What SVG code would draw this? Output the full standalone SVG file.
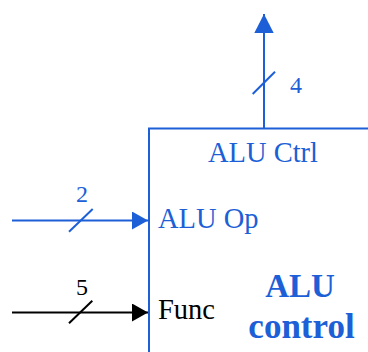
<svg xmlns="http://www.w3.org/2000/svg" width="368" height="352" viewBox="0 0 368 352">
  <defs>
    <style>
      .blue { stroke: #1c5fd6; }
      .line { fill: none; stroke-width: 2; }
      .t { font-family: "Liberation Serif", "DejaVu Serif", serif; }
      .tb { fill: #1c5fd6; }
      .tk { fill: #000000; }
    </style>
    <marker id="ahB" viewBox="0 0 16 18" refX="16" refY="9" markerWidth="16" markerHeight="18" markerUnits="userSpaceOnUse" orient="auto">
      <path d="M0,0 L16,9 L0,18 Z" fill="#1c5fd6"/>
    </marker>
    <marker id="ahK" viewBox="0 0 16 18" refX="16" refY="9" markerWidth="16" markerHeight="18" markerUnits="userSpaceOnUse" orient="auto">
      <path d="M0,0 L16,9 L0,18 Z" fill="#000000"/>
    </marker>
    <marker id="ahUp" viewBox="0 0 19 20" refX="19" refY="9.7" markerWidth="19" markerHeight="20" markerUnits="userSpaceOnUse" orient="auto">
      <path d="M0,0 L19,9.7 L0,19.4 Z" fill="#1c5fd6"/>
    </marker>
  </defs>

  <g id="alu-control">
    <path class="line blue" d="M149,352 V128.5 H368"/>
    <text class="t tb" x="263" y="162" font-size="28.5" text-anchor="middle">ALU Ctrl</text>
    <text class="t tb" x="158" y="228" font-size="28.5">ALU Op</text>
    <text class="t tk" x="158" y="319" font-size="28.5">Func</text>
    <text class="t tb" x="300" y="297" font-size="33" font-weight="bold" text-anchor="middle">ALU</text>
    <text class="t tb" x="301.5" y="338" font-size="35" font-weight="bold" text-anchor="middle">control</text>
  </g>

  <g id="connectors">
    <g id="out-ctrl">
      <line class="line blue" x1="264" y1="128.5" x2="264" y2="14" marker-end="url(#ahUp)"/>
      <line class="line blue" x1="252.7" y1="94" x2="275" y2="71.7"/>
      <text class="t tb" x="290" y="93" font-size="24">4</text>
    </g>
    <g id="in-aluop">
      <line class="line blue" x1="12" y1="220.5" x2="148" y2="220.5" marker-end="url(#ahB)"/>
      <line class="line blue" x1="69" y1="231.7" x2="92.7" y2="209"/>
      <text class="t tb" x="82" y="202" font-size="24" text-anchor="middle">2</text>
    </g>
    <g id="in-func">
      <line class="line" stroke="#000000" x1="12" y1="312.5" x2="148" y2="312.5" marker-end="url(#ahK)"/>
      <line class="line" stroke="#000000" x1="69" y1="323.3" x2="92.3" y2="300.7"/>
      <text class="t tk" x="82" y="295" font-size="24" text-anchor="middle">5</text>
    </g>
  </g>
</svg>
